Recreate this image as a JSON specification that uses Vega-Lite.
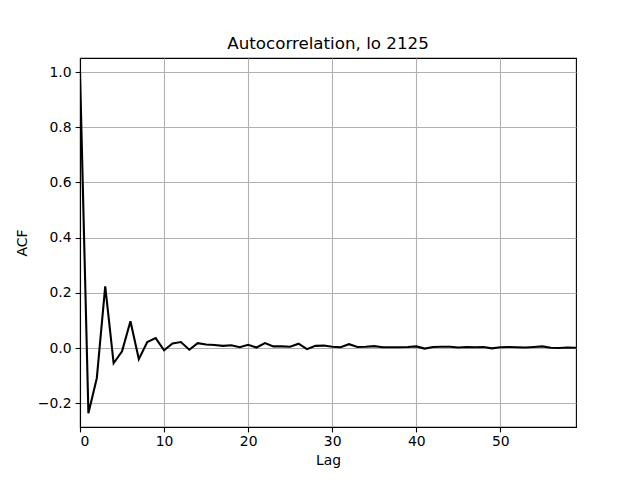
{
  "$schema": "https://vega.github.io/schema/vega-lite/v6.json",
  "autosize": {"type": "none"},
  "padding": {"left": 80, "top": 58, "right": 64, "bottom": 53},
  "width": 496,
  "height": 369,
  "background": "white",
  "title": {"text": "Autocorrelation, lo 2125", "font": "DejaVu Sans", "fontSize": 16.7, "fontWeight": "normal", "color": "black", "offset": 5},
  "config": {
    "view": {"stroke": "black", "strokeWidth": 1.1},
    "axis": {
      "labelFont": "DejaVu Sans", "labelFontSize": 13.9, "labelColor": "black",
      "titleFont": "DejaVu Sans", "titleFontSize": 13.9, "titleFontWeight": "normal", "titleColor": "black",
      "domainColor": "black", "domainWidth": 1.1, "tickColor": "black", "tickSize": 4.9, "tickWidth": 1.1,
      "gridColor": "#b0b0b0", "gridWidth": 1.1, "gridOpacity": 1
    }
  },
  "data": {"values": [
    {"lag": 0, "acf": 1.0}, {"lag": 1, "acf": -0.236}, {"lag": 2, "acf": -0.109}, {"lag": 3, "acf": 0.224},
    {"lag": 4, "acf": -0.055}, {"lag": 5, "acf": -0.012}, {"lag": 6, "acf": 0.097}, {"lag": 7, "acf": -0.040},
    {"lag": 8, "acf": 0.022}, {"lag": 9, "acf": 0.036}, {"lag": 10, "acf": -0.008}, {"lag": 11, "acf": 0.017},
    {"lag": 12, "acf": 0.022}, {"lag": 13, "acf": -0.006}, {"lag": 14, "acf": 0.018}, {"lag": 15, "acf": 0.013},
    {"lag": 16, "acf": 0.011}, {"lag": 17, "acf": 0.008}, {"lag": 18, "acf": 0.010}, {"lag": 19, "acf": 0.003},
    {"lag": 20, "acf": 0.012}, {"lag": 21, "acf": 0.002}, {"lag": 22, "acf": 0.018}, {"lag": 23, "acf": 0.006},
    {"lag": 24, "acf": 0.006}, {"lag": 25, "acf": 0.005}, {"lag": 26, "acf": 0.016}, {"lag": 27, "acf": -0.004},
    {"lag": 28, "acf": 0.008}, {"lag": 29, "acf": 0.009}, {"lag": 30, "acf": 0.005}, {"lag": 31, "acf": 0.003},
    {"lag": 32, "acf": 0.014}, {"lag": 33, "acf": 0.004}, {"lag": 34, "acf": 0.005}, {"lag": 35, "acf": 0.007},
    {"lag": 36, "acf": 0.003}, {"lag": 37, "acf": 0.003}, {"lag": 38, "acf": 0.003}, {"lag": 39, "acf": 0.004},
    {"lag": 40, "acf": 0.006}, {"lag": 41, "acf": -0.002}, {"lag": 42, "acf": 0.004}, {"lag": 43, "acf": 0.005},
    {"lag": 44, "acf": 0.005}, {"lag": 45, "acf": 0.002}, {"lag": 46, "acf": 0.004}, {"lag": 47, "acf": 0.003},
    {"lag": 48, "acf": 0.004}, {"lag": 49, "acf": -0.001}, {"lag": 50, "acf": 0.003}, {"lag": 51, "acf": 0.004},
    {"lag": 52, "acf": 0.003}, {"lag": 53, "acf": 0.002}, {"lag": 54, "acf": 0.004}, {"lag": 55, "acf": 0.006},
    {"lag": 56, "acf": 0.001}, {"lag": 57, "acf": 0.000}, {"lag": 58, "acf": 0.002}, {"lag": 59, "acf": 0.001}
  ]},
  "mark": {"type": "line", "color": "black", "strokeWidth": 2.1, "clip": true},
  "encoding": {
    "x": {"field": "lag", "type": "quantitative", "title": "Lag",
          "scale": {"domain": [0, 59], "nice": false, "zero": false},
          "axis": {"values": [0, 10, 20, 30, 40, 50], "format": "d", "labelPadding": 3, "titlePadding": 5}},
    "y": {"field": "acf", "type": "quantitative", "title": "ACF",
          "scale": {"domain": [-0.286, 1.051], "nice": false, "zero": false},
          "axis": {"values": [-0.2, 0, 0.2, 0.4, 0.6, 0.8, 1.0], "format": ".1f", "labelPadding": 4, "titlePadding": 8}}
  }
}
